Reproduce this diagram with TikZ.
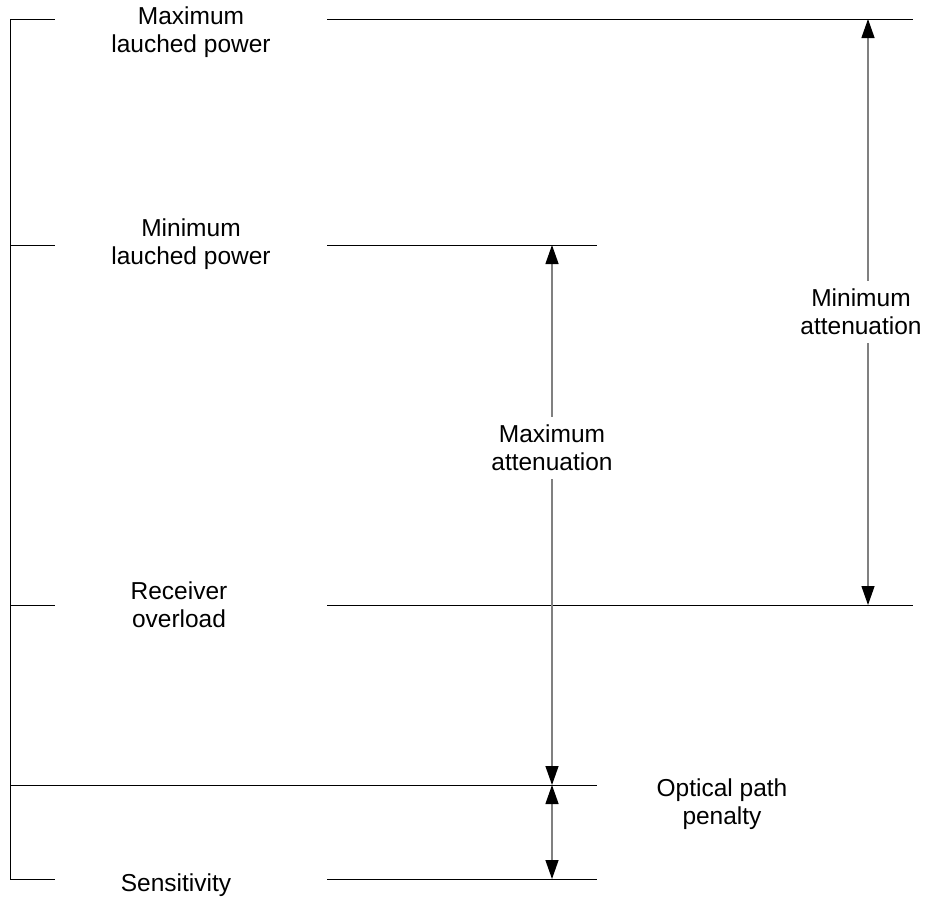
\documentclass[tikz,border=0pt]{standalone}
\usepackage{fontspec}
\setmainfont{Liberation Sans}
\usetikzlibrary{arrows.meta}

\begin{document}
\begin{tikzpicture}[x=1pt,y=-1pt,
    level/.style={line width=1pt},
    dim/.style={draw=gray, line width=1.3pt,
      {Triangle[length=19pt,width=13pt,fill=black,color=black]}-{Triangle[length=19pt,width=13pt,fill=black,color=black]}},
    lbl/.style={font=\fontsize{24.5}{28}\selectfont, align=center, inner sep=1pt},
    gap/.style={lbl, fill=white, inner ysep=8pt}]
  \useasboundingbox (0,0) rectangle (927,898);

  % left bracket
  \coordinate (lt) at (10,19);
  \coordinate (lb) at (10,879);
  \draw [level] (lt) -- (lb);

  % levels: left tick and right line
  \coordinate (maxlp)  at (55,19);   \coordinate (maxlpa) at (327,19);  \coordinate (maxlpb) at (913,19);
  \coordinate (minl)   at (10,245);  \coordinate (minlp)  at (55,245);
  \coordinate (minlpa) at (327,245); \coordinate (minlpb) at (597,245);
  \coordinate (ovl)    at (10,605);  \coordinate (ovlp)   at (55,605);
  \coordinate (ovlpa)  at (327,605); \coordinate (ovlpb)  at (913,605);
  \coordinate (pen)    at (10,785);  \coordinate (penb)   at (597,785);
  \coordinate (senp)   at (55,879);  \coordinate (senpa)  at (327,879); \coordinate (senpb) at (597,879);

  \draw [level] (lt) -- (maxlp);  \draw [level] (maxlpa) -- (maxlpb);
  \draw [level] (minl) -- (minlp); \draw [level] (minlpa) -- (minlpb);
  \draw [level] (ovl) -- (ovlp);  \draw [level] (ovlpa) -- (ovlpb);
  \draw [level] (pen) -- (penb);
  \draw [level] (lb) -- (senp);   \draw [level] (senpa) -- (senpb);

  % level names
  \node [lbl] (maxname) at (191,32)  {Maximum\\lauched power};
  \node [lbl] (minname) at (191,244) {Minimum\\lauched power};
  \node [lbl] (ovlname) at (179,605) {Receiver\\overload};
  \node [lbl] (senname) at (176,885) {Sensitivity};

  % attenuation ranges
  \coordinate (a1t) at (868,19);  \coordinate (a1b) at (868,605);
  \coordinate (a2t) at (552,245); \coordinate (a2b) at (552,785);
  \coordinate (a3b) at (552,879);
  \draw [dim] (a1t) -- node [gap, xshift=-7pt] (minatt) {Minimum\\attenuation} (a1b);
  \draw [dim] (a2t) -- node [gap, pos=0.375] (maxatt) {Maximum\\attenuation} (a2b);
  \draw [dim] (a2b) -- (a3b);
  \node [lbl] (penname) at (722,804) {Optical path\\penalty};
\end{tikzpicture}
\end{document}
